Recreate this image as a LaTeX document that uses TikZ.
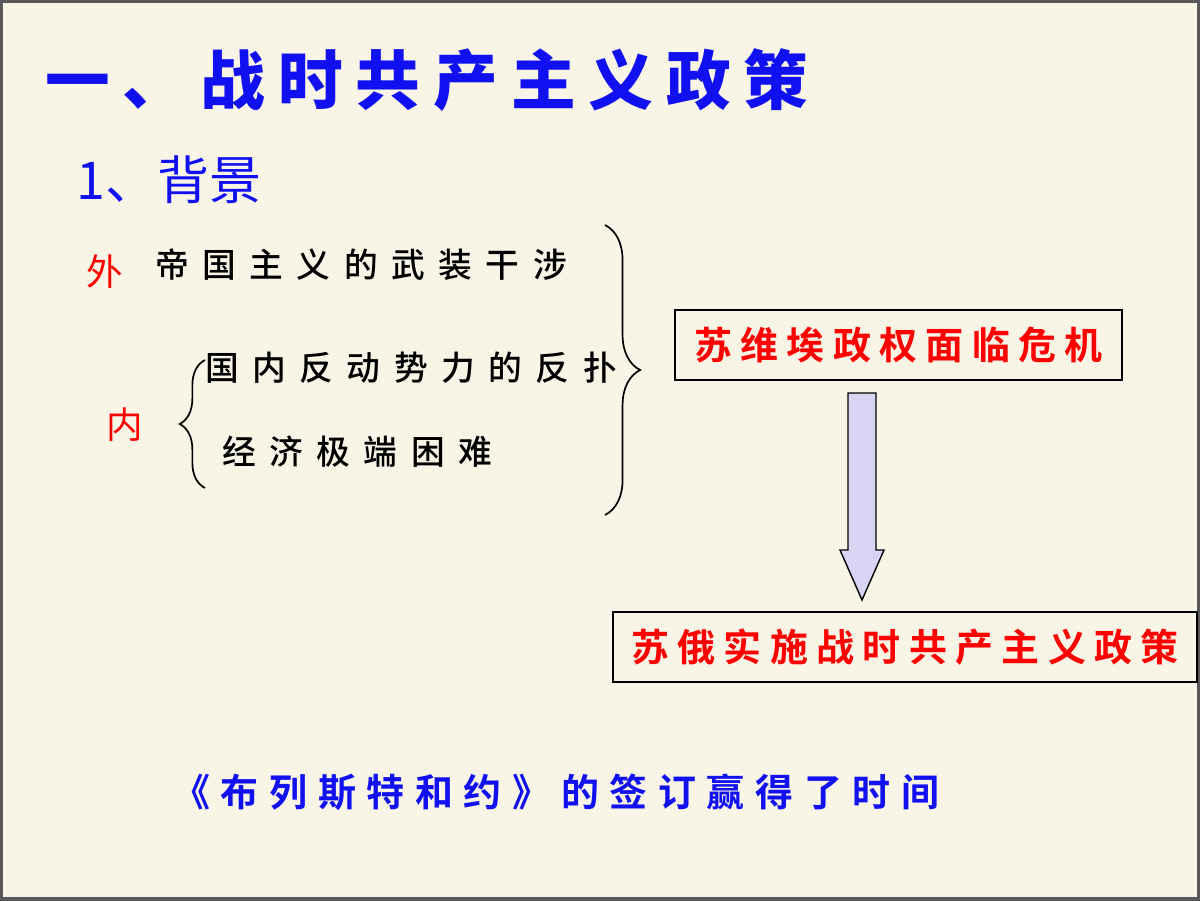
\documentclass[tikz,border=0pt]{standalone}
\usepackage{fontspec}
\usetikzlibrary{decorations.pathreplacing}
\newfontfamily\cjk{Noto Sans CJK SC}
\newfontfamily\cjkbold[LetterSpace=20]{Noto Sans CJK SC Black}
\newfontfamily\cjkwide[LetterSpace=40]{Noto Sans CJK SC Medium}
\newfontfamily\cjkwidebold[LetterSpace=22]{Noto Sans CJK SC Bold}
\newfontfamily\cjkbottom[LetterSpace=28]{Noto Sans CJK SC Bold}
\definecolor{slidebg}{HTML}{F8F5E6}
\definecolor{titleblue}{HTML}{1010F0}
\definecolor{shaftfill}{HTML}{D8D4F4}
\tikzset{
  line/.style={black,line width=1.2pt},
  ctext/.style={font=\cjkwide\fontsize{24}{24}\selectfont,inner sep=0pt,anchor=west},
  boxed/.style={draw=black,line width=1.6pt,text=red,font=\cjkwidebold\fontsize{27}{27}\selectfont,inner sep=0pt}
}
\begin{document}
\begin{tikzpicture}[x=0.025cm,y=-0.025cm]
\fill[slidebg] (0,0) rectangle (1200,900);
\useasboundingbox (0,0) rectangle (1200,900);
\draw[gray!70!black,line width=3pt] (1,1) rectangle (1199,899);
% title lines
\node[anchor=west,text=titleblue,font=\cjkbold\fontsize{46}{46}\selectfont,inner sep=0pt] (title) at (45,80) {一、战时共产主义政策};
\node[anchor=west,text=titleblue,font=\cjk\fontsize{37}{37}\selectfont,inner sep=0pt] (sub) at (76,180) {1、背景};
% causes
\node[text=red,font=\cjk\fontsize{26}{26}\selectfont,inner sep=0pt] (wai) at (105,272) {外};
\node[ctext] (c1) at (155,265) {帝国主义的武装干涉};
\node[ctext] (c2) at (205,368) {国内反动势力的反扑};
\node[ctext] (c3) at (222,452) {经济极端困难};
\node[text=red,font=\cjk\fontsize{26}{26}\selectfont,inner sep=0pt] (nei) at (125,425) {内};
\draw[line,decorate,decoration={brace,amplitude=18pt}] (205,488) -- (205,360);
\draw[line,decorate,decoration={brace,amplitude=25pt}] (605,225) -- (605,515);
% result boxes
\node[boxed,minimum width=447*0.025cm,minimum height=70*0.025cm] (crisis) at (898.5,345) {苏维埃政权面临危机};
\node[boxed,minimum width=584*0.025cm,minimum height=70*0.025cm] (policy) at (905,647) {苏俄实施战时共产主义政策};
\draw[black,line width=1pt,fill=shaftfill] (848,393) -- (876,393) -- (876,550) -- (884,550) -- (862,600) -- (840,550) -- (848,550) -- cycle;
% bottom
\node[anchor=west,text=titleblue,font=\cjkbottom\fontsize{27}{27}\selectfont,inner sep=0pt] (brest) at (172,792) {《布列斯特和约》的签订赢得了时间};
\end{tikzpicture}
\end{document}
